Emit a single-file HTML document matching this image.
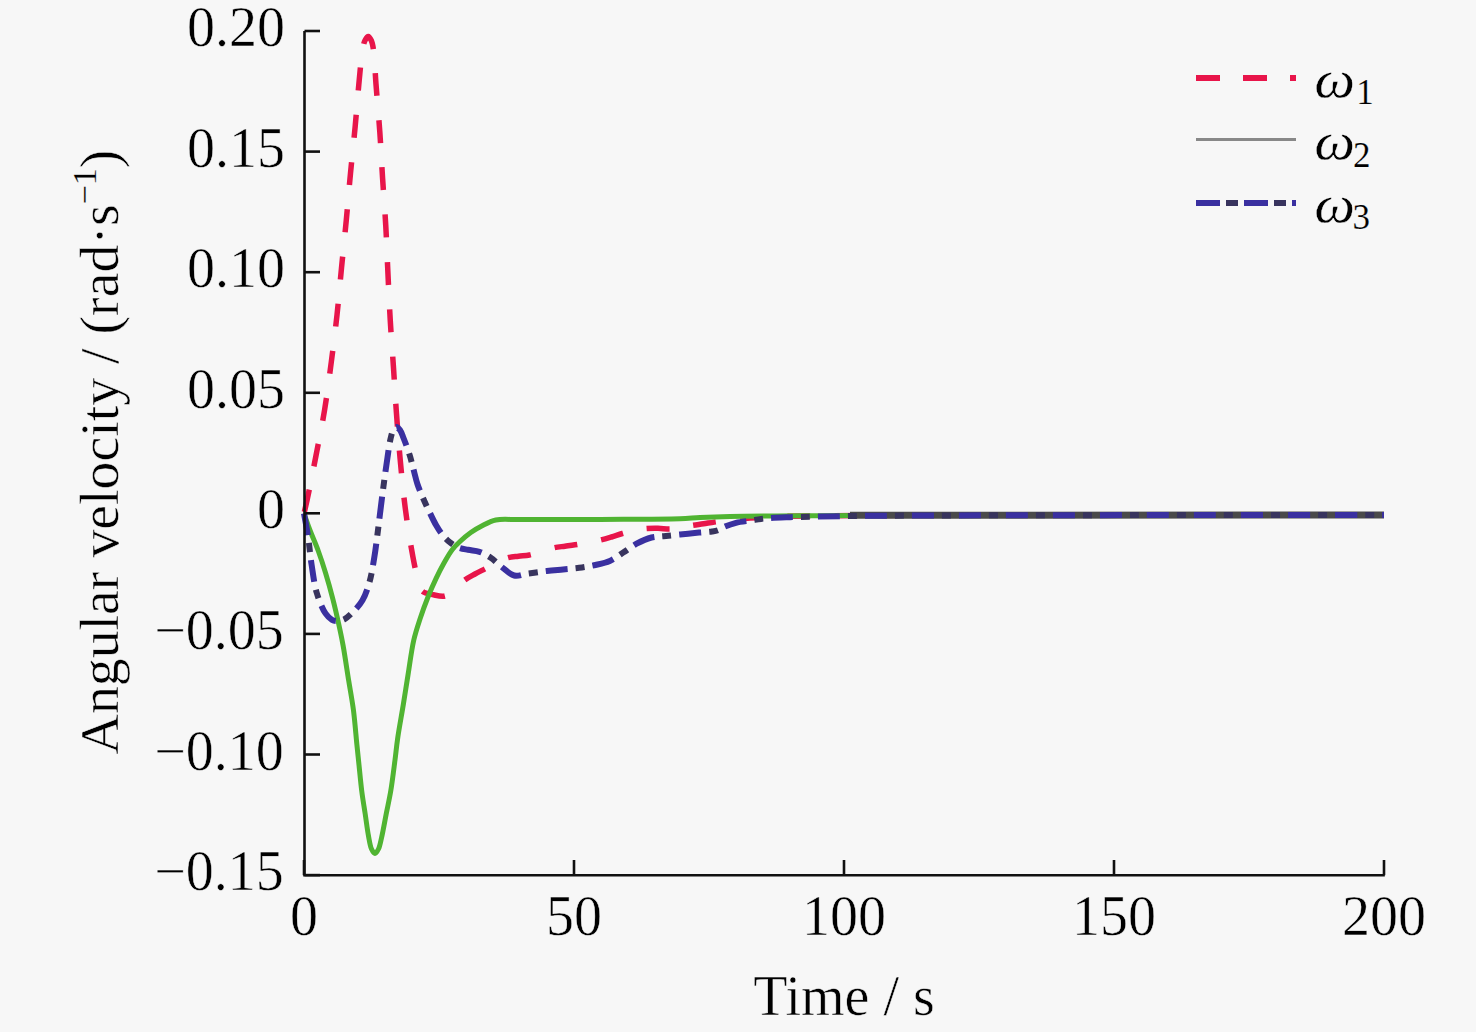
<!DOCTYPE html>
<html><head><meta charset="utf-8"><title>Angular velocity</title>
<style>html,body{margin:0;padding:0;background:#f7f7f7;width:1476px;height:1032px;overflow:hidden}svg{display:block}</style>
</head><body>
<svg width="1476" height="1032" viewBox="0 0 1476 1032">
<rect width="1476" height="1032" fill="#f7f7f7"/>
<g fill="none" stroke-linejoin="round">
<path d="M304.00,513.50 C305.00,509.17 305.78,506.15 307.00,500.50 C309.25,490.04 313.08,470.64 316.00,455.60 C318.95,440.44 322.07,425.34 324.60,409.90 C327.18,394.15 329.22,377.90 331.30,362.00 C333.35,346.27 335.30,330.68 337.00,315.00 C338.70,299.34 339.96,283.75 341.50,268.00 C343.06,252.08 344.79,235.90 346.30,220.00 C347.79,204.31 349.02,188.81 350.50,173.20 C351.99,157.55 353.73,141.86 355.20,126.20 C356.67,110.56 357.94,93.10 359.30,79.30 C360.37,68.38 361.19,57.05 362.50,50.00 C363.25,45.93 363.77,42.90 365.00,40.50 C365.89,38.76 367.24,36.48 368.30,36.50 C369.34,36.52 370.50,38.78 371.30,40.50 C372.42,42.91 372.87,45.82 373.50,50.00 C374.69,57.85 375.06,71.94 376.00,84.30 C377.11,98.85 378.70,116.03 379.80,131.80 C380.89,147.43 381.61,162.84 382.60,178.50 C383.61,194.34 384.90,210.31 385.80,226.30 C386.70,242.38 387.24,258.75 388.00,274.70 C388.74,290.31 389.39,305.53 390.30,321.00 C391.22,336.56 392.46,352.26 393.50,367.80 C394.53,383.22 395.37,398.48 396.50,413.90 C397.64,429.45 398.84,445.03 400.30,460.70 C401.77,476.56 403.22,492.60 405.30,508.50 C407.38,524.44 410.33,543.07 412.80,556.20 C414.55,565.53 416.15,573.63 418.00,580.00 C419.28,584.42 419.46,588.53 422.00,591.00 C424.58,593.51 429.62,593.97 433.50,594.80 C437.29,595.61 441.47,596.97 445.00,596.00 C448.67,594.99 451.76,591.13 455.00,588.50 C458.26,585.86 461.14,582.63 464.50,580.20 C467.81,577.81 471.43,575.98 475.00,574.00 C478.60,572.01 482.34,570.21 486.00,568.30 C489.67,566.38 493.33,564.27 497.00,562.50 C500.56,560.78 504.05,558.85 507.70,557.80 C511.22,556.78 514.89,556.67 518.50,556.20 C522.12,555.73 525.67,555.75 529.40,555.00 C533.48,554.18 537.83,552.52 542.00,551.30 C546.12,550.09 550.31,548.56 554.30,547.70 C557.96,546.91 561.50,546.69 565.00,546.20 C568.36,545.73 571.41,545.35 574.90,544.80 C578.85,544.18 583.28,543.38 587.50,542.60 C591.78,541.81 596.28,541.07 600.40,540.10 C604.26,539.19 607.84,538.10 611.50,537.00 C615.14,535.90 618.61,534.57 622.30,533.50 C626.11,532.40 630.06,531.32 634.00,530.50 C637.96,529.68 641.99,528.97 646.00,528.60 C649.99,528.24 653.95,528.24 658.00,528.30 C662.15,528.36 666.56,529.20 670.60,529.00 C674.38,528.81 677.86,527.90 681.50,527.30 C685.16,526.70 688.83,525.98 692.50,525.40 C696.16,524.82 699.85,524.35 703.50,523.80 C707.12,523.25 710.36,522.67 714.30,522.10 C719.04,521.41 724.44,520.65 730.00,520.00 C736.26,519.27 742.65,518.55 750.00,518.00 C758.98,517.33 768.73,516.86 780.00,516.50 C794.55,516.03 811.93,515.99 830.00,515.80 C851.37,515.57 874.59,515.43 900.00,515.30 C930.37,515.15 960.95,515.06 1000.00,515.00 C1055.23,514.92 1134.72,515.00 1200.00,515.00 C1262.61,515.00 1322.67,515.00 1384.00,515.00" stroke="#e8154a" stroke-width="5.5" stroke-dasharray="0.0 1.6 23.0 23.5 23.0 23.6 23.0 24.5 23.0 24.5 23.0 24.3 23.0 24.5 23.0 24.4 23.0 24.6 23.0 24.4 23.0 23.9 23.0 24.0 23.0 24.1 23.0 24.1 23.0 24.4 23.0 24.6 23.0 24.4 23.0 24.4 23.0 24.2 23.0 23.9 23.0 24.4 23.0 25.0 23.0 25.1 23.0 25.7 23.0 25.7 23.0 24.8 23.0 24.1 23.0 24.0 23.0 23.9 23.0 24.4 23.0 24.4 23.0 24.4 23.0 24.4 23.0 24.4 23.0 24.4 23.0 24.4 23.0 24.4 23.0 24.4 23.0 24.4 23.0 24.4 23.0 24.4 23.0 24.4 23.0 24.4 23.0 24.4 23.0 24.4"/>
<path d="M304.00,513.50 C305.83,518.67 307.39,523.40 309.50,529.00 C312.03,535.72 315.61,543.65 318.30,551.00 C320.94,558.22 323.18,565.10 325.50,572.70 C328.03,580.97 330.59,590.20 332.80,598.80 C334.94,607.12 336.85,615.54 338.60,623.50 C340.23,630.90 341.53,636.91 343.00,645.00 C344.89,655.38 346.89,669.41 348.70,680.70 C350.34,690.90 352.07,699.64 353.40,709.80 C354.85,720.88 355.87,734.63 356.90,744.70 C357.68,752.38 358.25,757.84 359.00,765.00 C359.84,773.06 360.64,782.35 361.70,790.70 C362.72,798.67 364.05,806.34 365.20,814.00 C366.32,821.44 367.29,829.65 368.50,836.00 C369.44,840.92 370.03,845.90 371.50,849.00 C372.46,851.03 373.83,853.50 375.00,853.50 C376.17,853.50 377.52,850.95 378.50,849.00 C379.88,846.24 380.47,842.40 381.50,838.00 C383.01,831.56 384.64,821.94 386.20,814.00 C387.74,806.18 389.41,799.02 390.80,790.70 C392.39,781.19 393.79,769.29 395.00,760.00 C396.00,752.28 396.45,746.72 397.60,738.80 C399.07,728.62 401.60,715.08 403.40,704.00 C405.04,693.90 406.36,685.12 408.00,675.00 C409.80,663.88 411.48,650.12 413.80,640.00 C415.63,632.05 417.68,626.05 420.00,619.00 C422.40,611.72 425.22,603.97 428.00,597.00 C430.57,590.55 433.24,584.44 436.00,578.60 C438.58,573.14 441.22,567.94 444.00,563.00 C446.63,558.34 449.29,553.47 452.20,549.70 C454.67,546.49 457.10,544.21 460.00,541.50 C463.23,538.48 467.09,535.13 470.80,532.50 C474.33,530.00 477.76,528.00 481.70,526.00 C486.03,523.80 490.34,521.16 495.80,520.00 C502.66,518.54 509.59,519.70 520.00,519.60 C538.92,519.42 573.33,519.53 600.00,519.40 C626.67,519.27 662.23,519.44 680.00,518.80 C688.90,518.48 692.66,517.87 700.00,517.50 C708.99,517.04 717.91,516.67 730.00,516.40 C748.46,515.98 774.59,515.99 800.00,515.80 C830.37,515.58 854.17,515.35 900.00,515.20 C1000.83,514.88 1222.67,515.07 1384.00,515.00" stroke="#50b432" stroke-width="5"/>
<path d="M850,515.3 L1384,515" stroke="#4a4a4a" stroke-width="7"/>
<path d="M304.00,513.50 C305.33,521.00 306.78,527.98 308.00,536.00 C309.39,545.13 310.21,555.78 311.70,565.40 C313.15,574.77 314.27,584.62 316.80,593.00 C319.05,600.45 322.31,608.72 325.50,613.40 C327.55,616.40 329.80,618.58 332.00,619.80 C333.65,620.72 335.17,621.00 337.00,621.00 C339.23,621.00 341.98,620.42 344.40,619.20 C347.34,617.72 350.20,614.85 353.00,612.00 C356.25,608.70 359.86,604.88 362.50,600.30 C365.51,595.08 367.61,588.60 369.50,582.00 C371.62,574.63 372.86,566.02 374.20,558.00 C375.53,550.02 376.43,542.22 377.50,534.00 C378.63,525.34 379.70,516.04 380.80,507.30 C381.86,498.85 382.89,490.65 384.00,482.40 C385.09,474.25 386.25,465.71 387.40,458.10 C388.42,451.34 389.26,444.23 390.50,439.00 C391.39,435.25 392.13,431.54 393.50,429.50 C394.36,428.22 395.46,426.99 396.50,427.00 C397.62,427.01 398.97,428.61 400.00,430.00 C401.42,431.92 402.23,434.80 403.50,438.00 C405.34,442.62 407.97,449.67 409.70,455.20 C411.28,460.23 412.30,464.94 413.60,469.80 C414.90,474.64 415.92,479.58 417.50,484.30 C419.06,488.98 421.07,493.52 423.00,498.00 C424.90,502.41 426.89,506.60 429.00,511.00 C431.21,515.60 433.53,520.74 436.00,525.00 C438.22,528.83 440.50,532.47 443.00,535.50 C445.20,538.17 447.47,540.42 450.00,542.40 C452.48,544.34 455.08,546.08 458.00,547.30 C461.06,548.58 464.54,549.07 468.00,549.80 C471.69,550.58 475.81,550.55 479.50,551.80 C483.29,553.08 486.90,555.16 490.40,557.50 C494.15,560.00 497.36,563.58 501.20,566.50 C505.27,569.59 509.65,574.41 514.20,575.50 C518.35,576.49 522.43,574.36 527.20,573.70 C533.04,572.89 540.48,571.74 546.70,571.00 C552.37,570.33 557.58,569.93 563.00,569.40 C568.41,568.87 573.80,568.53 579.20,567.80 C584.64,567.07 590.27,566.18 595.50,565.00 C600.45,563.89 605.25,563.01 609.80,561.00 C614.50,558.92 618.75,555.47 623.20,552.60 C627.69,549.71 631.89,546.22 636.60,543.70 C641.32,541.18 646.72,538.73 651.50,537.50 C655.64,536.44 659.18,536.66 663.50,536.20 C668.56,535.66 674.31,535.08 680.00,534.50 C686.11,533.88 693.26,533.13 699.00,532.60 C703.74,532.16 708.51,532.02 712.00,531.50 C714.40,531.14 716.05,530.92 718.00,530.20 C720.05,529.45 721.61,528.05 724.00,527.00 C727.27,525.57 731.72,523.87 736.00,522.80 C740.67,521.64 746.51,521.20 751.00,520.50 C754.67,519.92 757.66,519.33 761.00,518.90 C764.33,518.47 767.13,518.16 771.00,517.90 C776.32,517.54 781.89,517.43 790.00,517.20 C804.40,516.79 825.50,516.30 850.00,516.00 C888.74,515.52 938.46,515.47 1000.00,515.30 C1098.46,515.03 1256.00,515.10 1384.00,515.00" stroke="#3a30a0" stroke-width="6" stroke-dasharray="22 25"/>
<path d="M304.00,513.50 C305.33,521.00 306.78,527.98 308.00,536.00 C309.39,545.13 310.21,555.78 311.70,565.40 C313.15,574.77 314.27,584.62 316.80,593.00 C319.05,600.45 322.31,608.72 325.50,613.40 C327.55,616.40 329.80,618.58 332.00,619.80 C333.65,620.72 335.17,621.00 337.00,621.00 C339.23,621.00 341.98,620.42 344.40,619.20 C347.34,617.72 350.20,614.85 353.00,612.00 C356.25,608.70 359.86,604.88 362.50,600.30 C365.51,595.08 367.61,588.60 369.50,582.00 C371.62,574.63 372.86,566.02 374.20,558.00 C375.53,550.02 376.43,542.22 377.50,534.00 C378.63,525.34 379.70,516.04 380.80,507.30 C381.86,498.85 382.89,490.65 384.00,482.40 C385.09,474.25 386.25,465.71 387.40,458.10 C388.42,451.34 389.26,444.23 390.50,439.00 C391.39,435.25 392.13,431.54 393.50,429.50 C394.36,428.22 395.46,426.99 396.50,427.00 C397.62,427.01 398.97,428.61 400.00,430.00 C401.42,431.92 402.23,434.80 403.50,438.00 C405.34,442.62 407.97,449.67 409.70,455.20 C411.28,460.23 412.30,464.94 413.60,469.80 C414.90,474.64 415.92,479.58 417.50,484.30 C419.06,488.98 421.07,493.52 423.00,498.00 C424.90,502.41 426.89,506.60 429.00,511.00 C431.21,515.60 433.53,520.74 436.00,525.00 C438.22,528.83 440.50,532.47 443.00,535.50 C445.20,538.17 447.47,540.42 450.00,542.40 C452.48,544.34 455.08,546.08 458.00,547.30 C461.06,548.58 464.54,549.07 468.00,549.80 C471.69,550.58 475.81,550.55 479.50,551.80 C483.29,553.08 486.90,555.16 490.40,557.50 C494.15,560.00 497.36,563.58 501.20,566.50 C505.27,569.59 509.65,574.41 514.20,575.50 C518.35,576.49 522.43,574.36 527.20,573.70 C533.04,572.89 540.48,571.74 546.70,571.00 C552.37,570.33 557.58,569.93 563.00,569.40 C568.41,568.87 573.80,568.53 579.20,567.80 C584.64,567.07 590.27,566.18 595.50,565.00 C600.45,563.89 605.25,563.01 609.80,561.00 C614.50,558.92 618.75,555.47 623.20,552.60 C627.69,549.71 631.89,546.22 636.60,543.70 C641.32,541.18 646.72,538.73 651.50,537.50 C655.64,536.44 659.18,536.66 663.50,536.20 C668.56,535.66 674.31,535.08 680.00,534.50 C686.11,533.88 693.26,533.13 699.00,532.60 C703.74,532.16 708.51,532.02 712.00,531.50 C714.40,531.14 716.05,530.92 718.00,530.20 C720.05,529.45 721.61,528.05 724.00,527.00 C727.27,525.57 731.72,523.87 736.00,522.80 C740.67,521.64 746.51,521.20 751.00,520.50 C754.67,519.92 757.66,519.33 761.00,518.90 C764.33,518.47 767.13,518.16 771.00,517.90 C776.32,517.54 781.89,517.43 790.00,517.20 C804.40,516.79 825.50,516.30 850.00,516.00 C888.74,515.52 938.46,515.47 1000.00,515.30 C1098.46,515.03 1256.00,515.10 1384.00,515.00" stroke="#38345e" stroke-width="6" stroke-dasharray="9 38" stroke-dashoffset="-30"/>
</g>
<g stroke="#111" stroke-width="2.6" fill="none">
<path d="M304.5,31 L304.5,876.4 M303.2,875.2 L1384.8,875.2"/>
<path d="M304.5,31.0 L320,31.0"/>
<path d="M304.5,151.6 L320,151.6"/>
<path d="M304.5,272.2 L320,272.2"/>
<path d="M304.5,392.8 L320,392.8"/>
<path d="M304.5,513.3 L320,513.3"/>
<path d="M304.5,633.9 L320,633.9"/>
<path d="M304.5,754.5 L320,754.5"/>
<path d="M304.5,875.1 L320,875.1"/>
<path d="M304.0,875.2 L304.0,860"/>
<path d="M574.0,875.2 L574.0,860"/>
<path d="M844.0,875.2 L844.0,860"/>
<path d="M1114.0,875.2 L1114.0,860"/>
<path d="M1384.0,875.2 L1384.0,860"/>
</g>
<g font-family='"Liberation Serif", serif' font-size="56" fill="#000" stroke="#f7f7f7" stroke-width="0.5">
<text x="285.0" y="46.0" text-anchor="end">0.20</text>
<text x="285.0" y="166.6" text-anchor="end">0.15</text>
<text x="285.0" y="287.2" text-anchor="end">0.10</text>
<text x="285.0" y="407.8" text-anchor="end">0.05</text>
<text x="285.0" y="528.3" text-anchor="end">0</text>
<text x="283.8" y="648.9" text-anchor="end">−0.05</text>
<text x="283.8" y="769.5" text-anchor="end">−0.10</text>
<text x="283.8" y="890.1" text-anchor="end">−0.15</text>
<text x="304.0" y="935" text-anchor="middle">0</text>
<text x="574.0" y="935" text-anchor="middle">50</text>
<text x="844.0" y="935" text-anchor="middle">100</text>
<text x="1114.0" y="935" text-anchor="middle">150</text>
<text x="1384.0" y="935" text-anchor="middle">200</text>
<text x="844" y="1015" text-anchor="middle">Time / s</text>
<text transform="translate(117.6,452) rotate(-90)" text-anchor="middle" font-size="55.8">Angular velocity / (rad·s<tspan font-size="34" dy="-21.5" stroke-width="0.2">−1</tspan><tspan dy="21.5">)</tspan></text>
</g>
<g fill="none">
<path d="M1196,78 L1296,78" stroke="#e8154a" stroke-width="6" stroke-dasharray="24 23"/>
<path d="M1196,139.6 L1296,139.6" stroke="#888" stroke-width="3"/>
<path d="M1196,203 L1296,203" stroke="#3a30a0" stroke-width="6" stroke-dasharray="24 24"/>
<path d="M1196,203 L1296,203" stroke="#38345e" stroke-width="6" stroke-dasharray="0 30 12 6"/>
</g>
<g font-family='"Liberation Serif", serif' fill="#000" stroke="#f7f7f7" stroke-width="0.5">
<text transform="translate(1314.5,97.1) scale(1.1,1)" font-style="italic" font-size="52" stroke-width="0.3">ω</text>
<text x="1356.2" y="104.0" font-size="35" stroke-width="0.15">1</text>
<text transform="translate(1314.5,159.0) scale(1.1,1)" font-style="italic" font-size="52" stroke-width="0.3">ω</text>
<text x="1353.0" y="167.0" font-size="35" stroke-width="0.15">2</text>
<text transform="translate(1314.5,222.3) scale(1.1,1)" font-style="italic" font-size="52" stroke-width="0.3">ω</text>
<text x="1352.5" y="229.0" font-size="35" stroke-width="0.15">3</text>
</g>
</svg>
</body></html>
